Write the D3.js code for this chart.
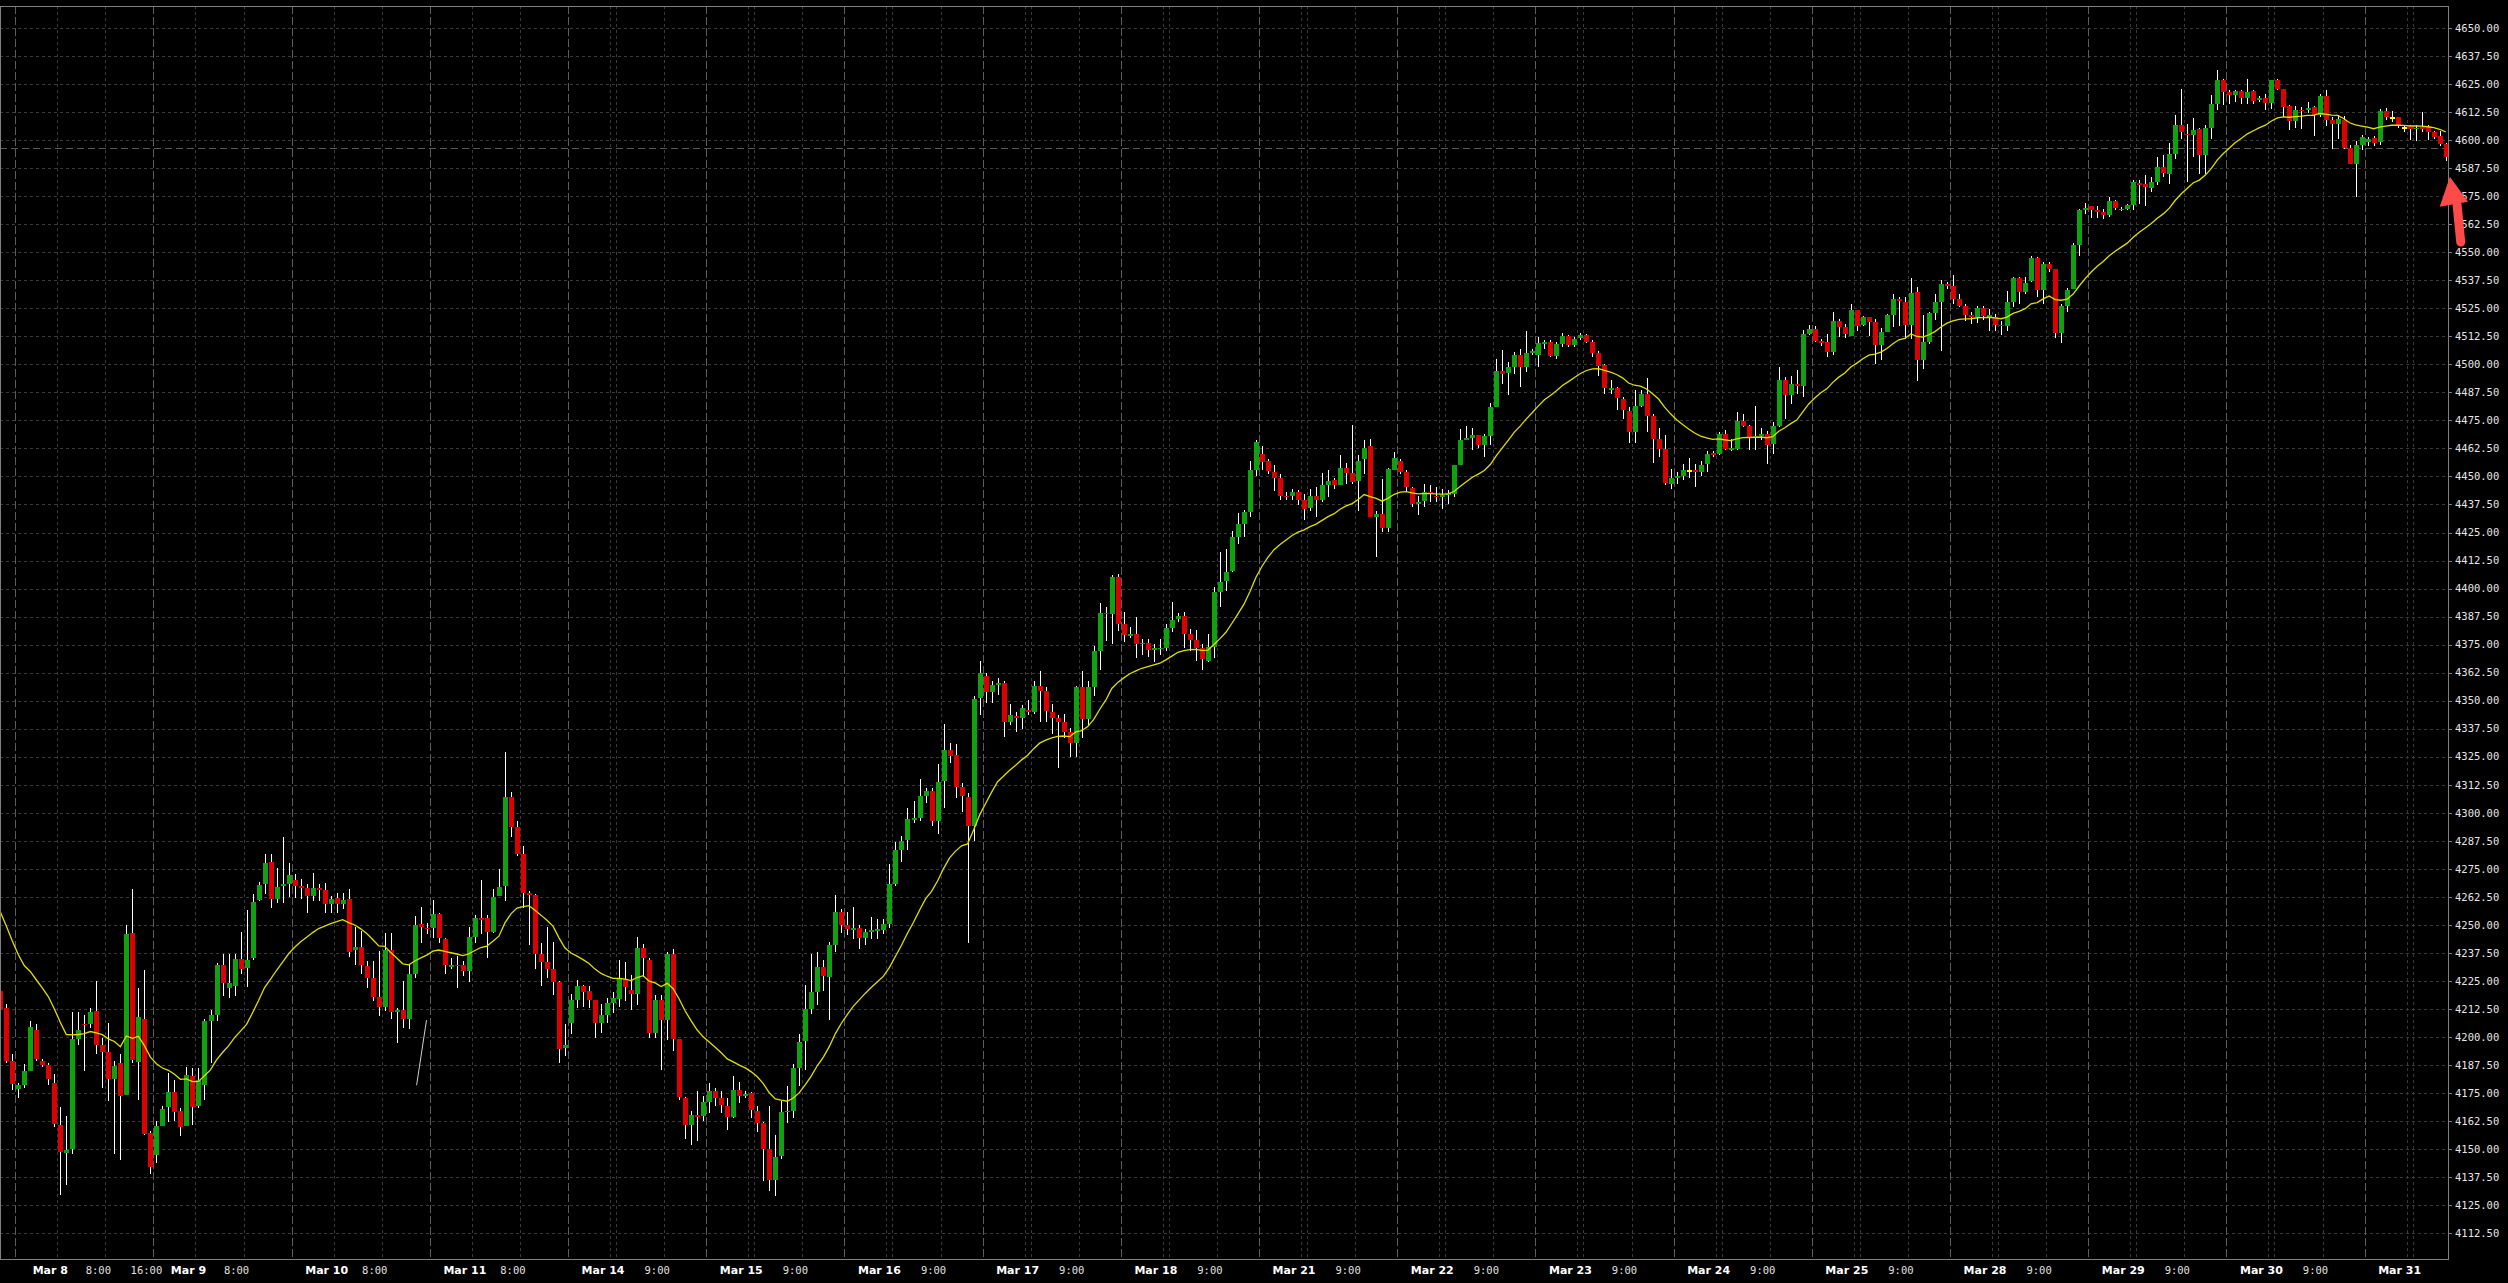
<!DOCTYPE html>
<html><head><meta charset="utf-8">
<script src="https://cdn.jsdelivr.net/npm/d3@7"></script>
<style>html,body{margin:0;padding:0;background:#000;overflow:hidden}</style>
</head><body>
<svg id="chart" width="2508" height="1283"></svg>
<script>
// ---- Hourly OHLC bars ----
const openV = [
4220.8,4212.8,4189.6,4177.1,4178.9,4185.1,4203.0,4189.6,4187.8,4179.6,
4160.7,4148.5,4150.1,4199.3,4206.0,4205.7,4211.6,4196.4,4193.3,4181.4,
4188.5,4174.4,4246.3,4189.0,4208.3,4157.3,4147.6,4160.6,4168.9,4175.4,
4167.3,4160.6,4182.6,4169.5,4178.9,4207.4,4210.1,4232.4,4222.0,4222.8,
4234.7,4230.7,4235.4,4261.2,4268.5,4278.1,4261.8,4267.4,4268.5,4270.1,
4267.4,4266.4,4262.9,4266.4,4265.6,4259.5,4262.2,4259.2,4261.8,4239.0,
4240.2,4231.7,4226.5,4218.0,4213.5,4238.8,4211.3,4212.1,4208.2,4228.3,
4250.3,4248.8,4248.8,4254.8,4243.6,4231.4,4232.4,4232.1,4229.5,4244.6,
4253.3,4253.0,4247.0,4262.9,4267.4,4307.1,4293.5,4281.5,4264.4,4263.4,
4237.2,4233.5,4230.2,4224.7,4195.2,4206.4,4216.5,4222.8,4220.5,4216.5,
4206.4,4210.1,4215.3,4217.1,4226.1,4221.1,4219.3,4239.6,4234.6,4202.0,
4216.6,4207.6,4237.3,4199.1,4172.8,4160.9,4165.4,4164.9,4171.2,4176.2,
4172.8,4169.4,4164.3,4176.6,4173.9,4175.0,4167.2,4161.6,4150.3,4136.2,
4146.9,4166.5,4167.2,4186.3,4198.2,4212.6,4220.0,4231.2,4226.8,4240.9,
4256.0,4249.9,4247.7,4248.6,4244.1,4246.8,4247.2,4247.7,4250.4,4268.3,
4283.4,4287.9,4297.1,4297.6,4307.7,4309.9,4296.4,4314.0,4327.9,4325.7,
4311.7,4307.2,4294.2,4351.1,4361.2,4353.8,4357.1,4357.8,4340.7,4343.2,
4342.5,4345.9,4345.2,4356.5,4354.5,4345.2,4342.5,4340.3,4336.2,4331.3,
4356.0,4341.9,4356.0,4372.2,4389.3,4388.6,4405.0,4384.1,4379.0,4379.6,
4375.1,4375.8,4372.9,4372.9,4373.6,4382.3,4386.4,4387.9,4379.6,4376.9,
4373.6,4367.9,4374.0,4398.7,4403.3,4408.0,4422.9,4428.6,4434.1,4453.0,
4459.8,4456.8,4452.2,4449.3,4441.5,4441.1,4443.0,4439.7,4435.9,4441.4,
4439.7,4446.0,4448.2,4446.4,4453.9,4451.5,4447.9,4457.6,4463.4,4432.1,
4433.3,4426.9,4453.0,4456.8,4451.9,4444.9,4437.5,4439.0,4443.2,4441.5,
4440.8,4441.7,4442.3,4454.9,4466.4,4467.3,4468.3,4463.8,4467.9,4481.0,
4496.9,4496.1,4498.8,4504.0,4498.8,4505.2,4504.0,4509.2,4510.0,4503.7,
4508.9,4512.5,4508.8,4511.9,4512.9,4510.0,4505.2,4499.6,4488.8,4489.4,
4484.4,4479.2,4469.8,4481.4,4486.6,4476.9,4466.5,4462.1,4446.7,4449.3,
4450.4,4452.5,4452.7,4452.2,4455.4,4460.4,4460.1,4469.0,4461.9,4462.4,
4474.9,4472.3,4467.6,4468.2,4469.0,4464.3,4472.3,4492.9,4486.2,4491.1,
4490.3,4513.4,4515.9,4510.4,4510.0,4505.5,4519.5,4516.5,4512.8,4524.0,
4517.7,4521.0,4518.7,4508.8,4514.6,4522.2,4528.9,4528.0,4517.7,4532.4,
4501.9,4509.8,4522.8,4528.0,4535.9,4535.1,4528.9,4525.9,4522.2,4521.0,
4525.3,4521.0,4521.0,4517.7,4517.0,4528.0,4538.4,4532.1,4537.1,4547.3,
4533.2,4544.5,4542.3,4513.8,4525.9,4533.6,4553.4,4569.0,4570.4,4569.0,
4567.9,4566.4,4572.6,4568.9,4569.3,4571.1,4581.0,4580.2,4578.6,4581.5,
4587.9,4585.0,4593.9,4606.5,4602.8,4602.1,4605.1,4593.2,4605.5,4615.9,
4626.9,4621.4,4619.9,4621.7,4618.9,4621.7,4618.0,4618.8,4616.5,4626.6,
4622.6,4615.0,4608.5,4613.5,4613.5,4614.6,4611.0,4619.5,4608.8,4607.0,
4609.1,4596.6,4589.4,4597.9,4599.1,4600.9,4599.1,4612.9,4610.0,4610.1,
4605.5,4606.2,4604.8,4605.8,4606.2,4603.7,4601.8,4598.2];
const highV = [
4233.9,4214.6,4192.6,4179.6,4188.2,4207.4,4205.7,4190.3,4188.5,4183.8,
4168.7,4164.7,4211.2,4211.2,4210.1,4213.1,4225.0,4199.7,4206.1,4189.6,
4192.3,4250.0,4266.1,4222.0,4229.8,4158.3,4162.8,4169.2,4184.1,4181.1,
4168.5,4186.6,4186.3,4186.3,4207.9,4211.9,4233.2,4237.2,4237.2,4236.9,
4246.9,4256.7,4264.0,4269.3,4281.5,4281.5,4275.6,4289.3,4277.8,4272.6,
4270.4,4268.2,4273.1,4268.2,4268.9,4262.9,4264.1,4264.4,4266.2,4249.1,
4247.3,4233.9,4233.9,4238.4,4246.4,4246.3,4213.1,4225.0,4232.1,4254.0,
4258.2,4251.0,4261.0,4255.5,4244.3,4235.4,4236.2,4233.9,4249.1,4254.5,
4270.1,4254.5,4265.9,4274.9,4327.0,4309.4,4296.4,4285.3,4265.2,4264.0,
4242.1,4249.3,4242.4,4225.0,4205.7,4219.3,4225.7,4223.2,4222.8,4216.5,
4214.6,4217.3,4220.0,4234.6,4233.5,4227.9,4244.7,4241.4,4235.1,4218.9,
4218.9,4238.0,4239.1,4199.1,4173.2,4167.2,4176.2,4173.9,4179.5,4177.3,
4176.2,4172.8,4182.5,4180.2,4176.2,4175.5,4169.4,4162.0,4169.4,4156.4,
4171.7,4178.4,4187.9,4201.3,4223.4,4236.9,4238.0,4234.6,4242.5,4263.2,
4257.1,4256.0,4258.2,4250.0,4248.1,4253.7,4252.6,4252.6,4277.3,4286.8,
4289.7,4302.1,4305.4,4315.1,4311.1,4311.1,4321.6,4339.8,4331.3,4330.8,
4313.3,4308.8,4352.0,4367.7,4362.3,4358.7,4360.1,4358.7,4348.6,4345.2,
4348.2,4350.4,4358.7,4363.4,4356.0,4348.6,4343.7,4344.3,4338.0,4356.7,
4363.4,4358.7,4374.5,4393.6,4392.0,4405.9,4406.6,4389.7,4383.0,4387.5,
4377.4,4377.4,4375.1,4377.4,4384.1,4394.0,4389.1,4389.7,4381.9,4381.4,
4375.1,4379.6,4400.5,4416.3,4417.7,4425.9,4433.6,4435.1,4457.1,4466.1,
4463.4,4457.9,4454.9,4451.2,4443.0,4444.5,4443.8,4442.3,4444.5,4445.2,
4451.5,4452.7,4449.3,4459.4,4456.0,4472.8,4459.4,4466.1,4466.8,4434.8,
4449.0,4453.9,4460.7,4457.9,4452.7,4445.5,4441.1,4446.7,4446.0,4445.2,
4444.5,4443.8,4454.9,4471.0,4472.3,4471.6,4468.3,4468.8,4482.9,4502.5,
4506.2,4501.0,4505.5,4507.0,4514.9,4507.0,4512.2,4511.0,4510.7,4510.0,
4514.0,4512.9,4512.2,4514.0,4513.7,4510.7,4506.0,4500.0,4492.9,4489.9,
4485.4,4481.0,4488.4,4488.4,4494.0,4478.0,4471.7,4468.3,4453.4,4451.9,
4455.7,4458.3,4455.7,4457.1,4461.2,4461.3,4469.8,4470.5,4466.8,4478.7,
4478.0,4472.8,4481.2,4471.7,4470.2,4474.3,4498.8,4494.3,4494.6,4497.3,
4515.5,4517.4,4517.0,4511.5,4513.7,4523.4,4520.2,4518.0,4526.9,4524.3,
4521.7,4521.3,4520.2,4516.2,4522.5,4531.4,4529.9,4529.9,4538.5,4534.4,
4522.2,4523.2,4531.4,4537.6,4536.5,4540.0,4531.4,4526.9,4523.2,4526.2,
4526.2,4524.7,4522.5,4519.5,4532.6,4538.8,4538.8,4538.8,4548.5,4547.8,
4545.5,4545.5,4542.6,4526.9,4534.1,4554.0,4569.3,4571.9,4570.8,4570.5,
4569.3,4574.6,4573.4,4570.1,4571.6,4582.0,4582.0,4584.2,4583.5,4592.4,
4593.2,4598.7,4611.0,4622.9,4607.3,4610.0,4605.5,4606.5,4619.9,4631.1,
4627.4,4622.2,4622.2,4622.2,4627.4,4622.2,4619.5,4620.4,4626.9,4627.4,
4622.9,4615.5,4615.0,4614.7,4617.0,4615.0,4620.7,4622.5,4610.3,4611.0,
4610.6,4597.6,4599.6,4602.1,4601.3,4601.6,4614.0,4614.1,4612.9,4610.4,
4606.7,4606.7,4606.7,4612.6,4606.7,4604.1,4604.0,4598.8];
const lowV = [
4207.1,4188.5,4176.6,4172.9,4177.4,4184.8,4189.3,4186.6,4178.9,4159.8,
4129.8,4133.9,4147.9,4196.7,4185.1,4204.2,4192.3,4177.4,4171.4,4147.9,
4145.4,4174.0,4188.5,4172.2,4156.5,4139.0,4143.9,4160.6,4162.1,4162.5,
4156.1,4160.6,4161.0,4168.5,4172.2,4188.5,4207.4,4218.3,4217.6,4218.3,
4228.0,4222.3,4234.2,4260.7,4263.7,4257.4,4260.0,4260.0,4262.5,4262.2,
4261.5,4255.5,4260.7,4260.7,4255.5,4255.5,4255.5,4257.0,4235.7,4232.4,
4228.0,4222.0,4216.1,4209.4,4211.6,4208.3,4197.5,4204.2,4203.7,4226.5,
4242.1,4245.8,4244.3,4242.1,4228.0,4230.2,4222.0,4227.2,4224.7,4242.1,
4245.8,4235.1,4246.6,4262.9,4260.7,4289.3,4280.8,4257.7,4241.1,4230.5,
4222.8,4226.5,4219.0,4188.5,4191.5,4201.5,4213.1,4213.4,4213.1,4199.7,
4201.9,4206.4,4211.0,4213.3,4216.2,4212.1,4214.4,4226.8,4199.8,4199.8,
4185.2,4198.7,4193.7,4172.1,4154.8,4151.9,4153.7,4162.7,4166.1,4169.4,
4166.1,4158.6,4163.8,4170.6,4172.8,4163.8,4157.7,4135.7,4131.2,4129.0,
4145.8,4161.6,4163.8,4178.4,4185.2,4210.3,4214.4,4220.7,4207.6,4238.0,
4246.3,4245.4,4243.6,4239.1,4240.9,4243.6,4243.6,4245.9,4248.6,4267.2,
4278.0,4283.6,4295.3,4296.4,4304.3,4294.2,4290.4,4302.1,4322.3,4306.6,
4300.3,4241.8,4287.5,4343.7,4348.8,4348.8,4352.7,4334.0,4339.2,4336.2,
4337.4,4343.7,4344.3,4340.3,4340.3,4335.3,4320.1,4333.5,4325.0,4325.0,
4333.5,4339.2,4352.0,4363.9,4376.7,4375.1,4381.2,4376.3,4378.1,4369.1,
4370.6,4369.5,4367.3,4370.6,4372.2,4380.8,4385.3,4373.6,4372.2,4367.9,
4363.9,4367.3,4369.1,4392.0,4398.8,4407.3,4419.9,4422.9,4431.8,4450.4,
4452.7,4451.2,4443.5,4439.3,4439.3,4439.6,4437.1,4430.4,4434.8,4431.8,
4438.5,4440.8,4444.5,4446.0,4446.7,4446.7,4434.8,4451.2,4431.8,4414.3,
4425.1,4425.1,4452.7,4451.2,4443.7,4436.3,4432.6,4436.3,4438.5,4438.5,
4435.6,4437.8,4440.8,4454.9,4466.1,4461.6,4462.8,4458.6,4463.8,4481.0,
4491.4,4486.2,4495.8,4489.9,4496.6,4504.0,4498.8,4507.0,4503.3,4502.5,
4507.7,4507.7,4507.7,4510.7,4509.5,4503.3,4494.6,4486.9,4486.9,4479.8,
4475.7,4464.9,4464.9,4481.0,4469.8,4456.0,4458.6,4446.0,4444.5,4446.7,
4448.5,4449.4,4445.2,4450.4,4451.9,4458.6,4459.4,4461.6,4461.3,4461.6,
4472.0,4461.9,4461.9,4466.1,4455.7,4460.1,4472.0,4475.7,4482.1,4486.6,
4485.4,4513.0,4510.0,4508.0,4503.3,4504.0,4512.1,4511.6,4512.4,4515.0,
4517.3,4512.8,4500.1,4501.9,4514.3,4516.5,4517.3,4511.3,4511.3,4492.7,
4497.9,4509.1,4519.8,4506.1,4533.6,4526.9,4525.4,4519.5,4518.0,4518.3,
4519.8,4515.0,4515.0,4513.2,4515.0,4525.4,4526.9,4531.4,4536.6,4529.9,
4526.9,4541.1,4511.6,4509.4,4523.2,4533.6,4548.1,4567.1,4565.2,4565.3,
4564.6,4565.6,4568.6,4568.3,4568.9,4568.6,4571.6,4570.4,4576.8,4579.8,
4583.5,4580.2,4591.7,4600.6,4581.2,4592.4,4585.0,4585.0,4600.6,4613.2,
4615.5,4616.2,4617.0,4616.2,4616.2,4616.2,4617.0,4613.2,4614.0,4622.5,
4610.3,4604.6,4605.5,4605.1,4612.1,4601.6,4610.3,4606.1,4596.1,4600.6,
4596.1,4589.1,4574.6,4595.7,4597.2,4597.2,4597.6,4608.9,4608.2,4605.2,
4603.7,4600.0,4599.7,4603.7,4600.0,4600.3,4597.3,4590.8];
const closeV = [
4212.4,4189.6,4179.2,4178.9,4185.1,4204.5,4190.3,4187.4,4181.5,4161.3,
4148.8,4149.6,4199.3,4203.0,4205.4,4211.2,4196.7,4193.3,4181.4,4187.1,
4173.7,4245.8,4189.7,4208.9,4156.8,4142.1,4160.6,4168.0,4175.4,4166.5,
4160.0,4183.0,4168.9,4181.1,4207.1,4210.1,4232.1,4224.3,4224.3,4234.7,
4230.2,4234.2,4260.3,4267.9,4277.5,4261.8,4267.0,4268.2,4272.3,4267.4,
4266.5,4262.9,4266.7,4265.6,4259.5,4261.8,4259.2,4261.2,4238.1,4240.2,
4232.1,4226.5,4218.0,4213.5,4238.8,4211.3,4212.1,4208.2,4228.0,4250.0,
4249.1,4248.1,4254.8,4244.0,4232.1,4232.1,4231.8,4229.5,4244.6,4253.0,
4252.4,4247.0,4262.5,4267.1,4307.1,4293.5,4281.5,4264.4,4263.2,4237.2,
4233.5,4230.2,4224.7,4194.9,4196.4,4216.5,4222.8,4220.1,4216.5,4206.4,
4210.1,4215.3,4217.5,4226.1,4222.3,4219.3,4239.6,4235.1,4202.0,4216.6,
4207.6,4237.3,4199.1,4173.2,4160.9,4165.4,4164.5,4171.2,4176.2,4172.8,
4169.9,4164.3,4176.6,4173.9,4174.6,4167.6,4161.6,4150.3,4136.2,4146.5,
4166.5,4167.2,4186.3,4198.0,4212.6,4220.0,4231.2,4227.2,4240.9,4256.0,
4249.9,4248.1,4248.6,4244.1,4247.0,4247.7,4248.1,4250.4,4268.3,4283.4,
4287.5,4297.1,4297.6,4307.7,4309.9,4296.4,4313.8,4327.9,4325.2,4311.7,
4307.7,4294.2,4350.9,4362.3,4353.8,4357.1,4357.8,4340.7,4343.7,4342.1,
4346.6,4345.2,4356.5,4354.5,4345.5,4342.5,4340.3,4336.2,4331.3,4356.0,
4341.9,4356.0,4372.2,4389.1,4388.6,4405.0,4384.1,4379.2,4379.6,4375.1,
4375.8,4372.4,4373.3,4373.6,4382.3,4385.9,4387.9,4379.6,4376.9,4373.6,
4368.4,4374.0,4398.3,4402.8,4407.3,4422.9,4428.6,4434.1,4452.7,4465.3,
4456.4,4452.4,4449.3,4441.1,4440.8,4443.0,4439.7,4435.4,4441.4,4439.7,
4446.0,4447.8,4446.0,4453.9,4451.5,4447.5,4457.1,4462.8,4432.1,4433.3,
4426.9,4453.1,4458.3,4451.9,4445.2,4437.5,4438.5,4443.2,4442.3,4440.8,
4441.7,4442.7,4454.9,4466.4,4467.3,4468.7,4463.8,4467.9,4481.0,4496.9,
4495.8,4498.8,4504.0,4498.8,4505.2,4505.8,4509.5,4510.0,4503.7,4508.9,
4512.5,4508.8,4511.5,4512.9,4510.0,4505.2,4499.1,4489.6,4489.4,4485.1,
4479.8,4469.8,4481.2,4486.6,4476.9,4466.5,4462.1,4447.0,4449.3,4450.4,
4452.7,4452.5,4452.0,4454.9,4460.1,4459.8,4469.0,4462.4,4462.5,4474.6,
4472.5,4467.6,4468.2,4469.0,4464.0,4472.3,4493.2,4486.2,4491.1,4490.3,
4513.4,4515.9,4510.4,4509.7,4505.5,4519.2,4516.5,4513.5,4524.0,4517.3,
4521.3,4518.7,4508.8,4514.6,4522.2,4528.9,4528.1,4517.7,4531.8,4501.9,
4509.8,4522.8,4528.0,4535.9,4535.1,4528.9,4526.2,4522.2,4521.0,4525.0,
4521.7,4522.2,4517.7,4517.0,4528.0,4538.4,4532.1,4536.3,4547.3,4533.2,
4544.8,4542.3,4513.8,4525.9,4533.2,4553.4,4568.9,4569.8,4569.0,4567.9,
4566.4,4572.6,4569.6,4569.3,4571.1,4581.2,4580.1,4579.0,4581.5,4587.9,
4585.3,4593.9,4606.5,4603.6,4602.1,4604.3,4593.2,4605.5,4615.9,4626.9,
4621.4,4619.9,4621.7,4618.9,4621.4,4617.4,4618.9,4616.5,4626.6,4622.9,
4614.7,4608.5,4613.2,4612.9,4614.3,4611.0,4619.5,4608.8,4607.3,4609.5,
4596.6,4589.4,4597.9,4601.3,4600.6,4598.8,4612.8,4610.4,4610.0,4606.7,
4605.5,4604.8,4605.5,4605.2,4603.7,4601.5,4598.2,4592.3];

// EMA(20) of close, seeded with the value read at the first visible bar
const emaPeriod = 20;
const emaSeed = 4256.0;

// Sessions (first bar index of each trading day) and their labels
const sessionNames  = ["Mar 8","Mar 9","Mar 10","Mar 11","Mar 14","Mar 15","Mar 16","Mar 17","Mar 18",
                       "Mar 21","Mar 22","Mar 23","Mar 24","Mar 25","Mar 28","Mar 29","Mar 30","Mar 31"];
const sessionStarts = [3,26,49,72,95,118,141,164,187,210,233,256,279,302,325,348,371,394];
// intraday time labels: [bar index, text]
const timeLabels = [[16,"8:00"],[24,"16:00"],[39,"8:00"],[62,"8:00"],[85,"8:00"],
  [109,"9:00"],[132,"9:00"],[155,"9:00"],[178,"9:00"],[201,"9:00"],[224,"9:00"],[247,"9:00"],
  [270,"9:00"],[293,"9:00"],[316,"9:00"],[339,"9:00"],[362,"9:00"],[385,"9:00"]];
// intraday dotted grid offsets (bars after session start)
const gridOffsetsEarly = [7,15];   // sessions before Mar 14
const gridOffsetsLate  = [7,8,16]; // from Mar 14 on
// price ticks
const priceTicks = d3.range(4112.5, 4650.01, 12.5);
const lastPriceLine = 4596.4;
// drawn trendline object [bar, price]
const drawnLine = [[69.3, 4178.6],[70.95, 4207.6]];
// red arrow annotation in [bar, price]
const arrowHead = [[407.7, 4583.6],[406.0, 4570.3],[410.7, 4572.5]];
const arrowShaft = [[408.9, 4571.0],[409.5, 4554.5]];

// ---- layout ----
const W = 2508, H = 1283;
const plot = {left:0, top:6, right:2448, bottom:1259};
const svg = d3.select("#chart");
svg.append("rect").attr("width",W).attr("height",H).attr("fill","#000");

const x = d3.scaleLinear().domain([0, openV.length-1]).range([0.2, 2445.7]);
const y = d3.scaleLinear().domain([4101.1, 4659.75]).range([plot.bottom, plot.top]);
const step = x(1)-x(0);

svg.append("clipPath").attr("id","clip").append("rect")
  .attr("x",plot.left).attr("y",plot.top).attr("width",plot.right-plot.left).attr("height",plot.bottom-plot.top);
const g = svg.append("g").attr("clip-path","url(#clip)");

// horizontal grid
g.selectAll("line.hg").data(priceTicks).enter().append("line")
  .attr("x1",0).attr("x2",plot.right).attr("y1",d=>Math.round(y(d))+0.5).attr("y2",d=>Math.round(y(d))+0.5)
  .attr("stroke","#3a3a3a").attr("stroke-width",1).attr("stroke-dasharray","3,3");

// vertical dotted grid
const vDots = [];
sessionStarts.forEach((s,k)=>{
  const offs = s < 95 ? gridOffsetsEarly : gridOffsetsLate;
  offs.forEach(o=>{ if (s+o < openV.length) vDots.push(s+o); });
});
g.selectAll("line.vg").data(vDots).enter().append("line")
  .attr("x1",d=>Math.round(x(d)-step/2)+0.5).attr("x2",d=>Math.round(x(d)-step/2)+0.5)
  .attr("y1",plot.top).attr("y2",plot.bottom)
  .attr("stroke","#3a3a3a").attr("stroke-dasharray","3,3");

// day separators
g.selectAll("line.sep").data(sessionStarts).enter().append("line")
  .attr("x1",d=>Math.round(x(d)-step/2)+0.5).attr("x2",d=>Math.round(x(d)-step/2)+0.5)
  .attr("y1",plot.top).attr("y2",plot.bottom)
  .attr("stroke","#5c5c5c").attr("stroke-dasharray","8,3");

// last price dashed line
g.append("line").attr("x1",0).attr("x2",plot.right)
  .attr("y1",Math.round(y(lastPriceLine))+0.5).attr("y2",Math.round(y(lastPriceLine))+0.5)
  .attr("stroke","#5a5a5a").attr("stroke-dasharray","7,4");

// candles
const bars = d3.range(openV.length).map(i=>({i,o:openV[i],h:highV[i],l:lowV[i],c:closeV[i]}));
const cg = g.append("g").attr("shape-rendering","crispEdges");
cg.selectAll("rect.wick").data(bars).enter().append("rect")
  .attr("x",d=>Math.round(x(d.i))).attr("width",1)
  .attr("y",d=>y(d.h)).attr("height",d=>Math.max(1,y(d.l)-y(d.h)))
  .attr("fill","#ffffff");
cg.selectAll("rect.body").data(bars).enter().append("rect")
  .attr("x",d=>Math.round(x(d.i))-2).attr("width",5)
  .attr("y",d=> d.o===d.c ? y(d.o)-1 : y(Math.max(d.o,d.c)))
  .attr("height",d=> d.o===d.c ? 2 : Math.max(1.5, Math.abs(y(d.o)-y(d.c))))
  .attr("fill",d=> d.o===d.c ? "#ffff00" : (d.c>d.o ? "#0fa10f" : "#dc0000"));

// EMA line
const alpha = 2/(emaPeriod+1);
const ema = [];
closeV.forEach((c,i)=>{ ema.push(i===0 ? emaSeed : ema[i-1] + alpha*(c-ema[i-1])); });
g.append("path").datum(ema)
  .attr("d", d3.line().x((d,i)=>x(i)).y(d=>y(d)))
  .attr("fill","none").attr("stroke","#dede00").attr("stroke-width",1.3);

// drawn trendline
g.append("line")
  .attr("x1",x(drawnLine[0][0])).attr("y1",y(drawnLine[0][1]))
  .attr("x2",x(drawnLine[1][0])).attr("y2",y(drawnLine[1][1]))
  .attr("stroke","#d0d0d0").attr("stroke-width",1);

// frame
svg.append("rect").attr("x",0.5).attr("y",plot.top+0.5).attr("width",plot.right-0.5).attr("height",plot.bottom-plot.top)
  .attr("fill","none").attr("stroke","#808080").attr("stroke-width",1).attr("shape-rendering","crispEdges");

// y axis labels + ticks
const ya = svg.append("g");
ya.selectAll("line").data(priceTicks).enter().append("line")
  .attr("x1",plot.right).attr("x2",plot.right+4)
  .attr("y1",d=>Math.round(y(d))+0.5).attr("y2",d=>Math.round(y(d))+0.5)
  .attr("stroke","#808080");
ya.selectAll("text").data(priceTicks).enter().append("text")
  .attr("x",plot.right+7).attr("y",d=>y(d)).attr("dy","0.35em")
  .attr("fill","#e6e6e6").attr("font-family","DejaVu Sans Mono").attr("font-size","10.5px")
  .text(d=>d3.format(".2f")(d));

// x axis labels
const xa = svg.append("g");
xa.selectAll("text.date").data(sessionStarts).enter().append("text")
  .attr("x",(d)=>x(d+5)+2).attr("y",1270).attr("dy","0.35em").attr("text-anchor","middle")
  .attr("fill","#ffffff").attr("font-family","DejaVu Sans").attr("font-weight","bold").attr("font-size","11px")
  .text((d,k)=>sessionNames[k]);
xa.selectAll("text.time").data(timeLabels).enter().append("text")
  .attr("x",d=>x(d[0])+2).attr("y",1270).attr("dy","0.35em").attr("text-anchor","middle")
  .attr("fill","#e0e0e0").attr("font-family","DejaVu Sans Mono").attr("font-size","10.5px")
  .text(d=>d[1]);

// red arrow
const ah = arrowHead.map(p=>[x(p[0]), y(p[1])]);
svg.append("line")
  .attr("x1",x(arrowShaft[0][0])).attr("y1",y(arrowShaft[0][1]))
  .attr("x2",x(arrowShaft[1][0])).attr("y2",y(arrowShaft[1][1]))
  .attr("stroke","#ff4a4a").attr("stroke-width",9).attr("stroke-linecap","round");
svg.append("polygon").attr("points", ah.map(p=>p.join(",")).join(" ")).attr("fill","#ff4a4a");
</script>
</body></html>
